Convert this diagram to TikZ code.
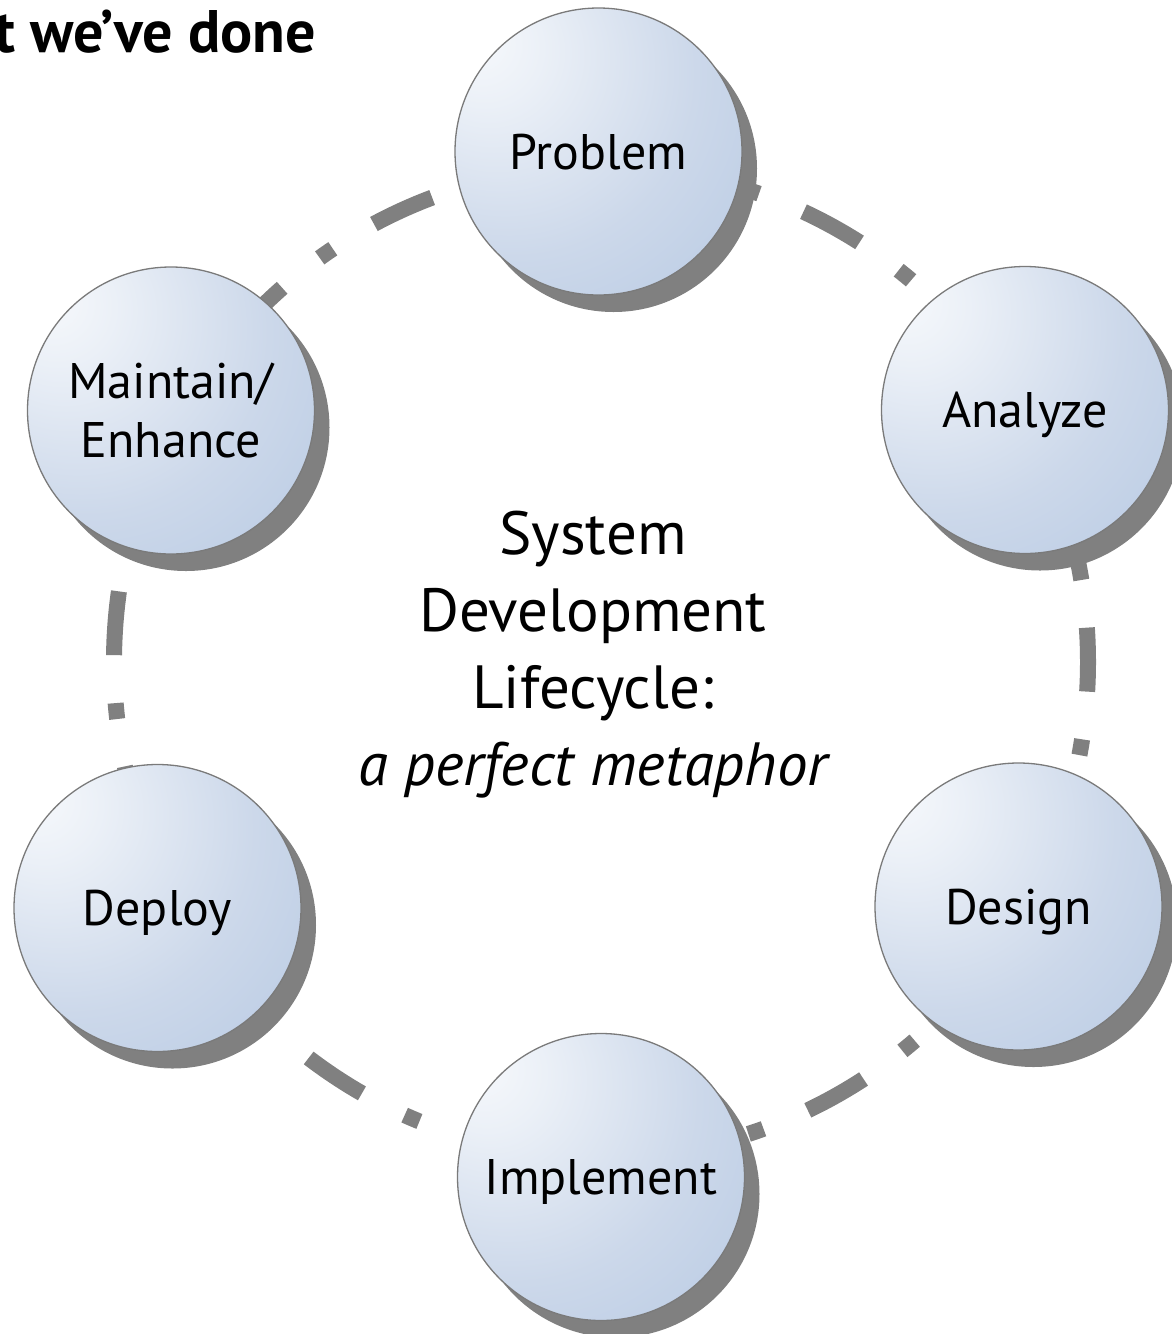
\documentclass[tikz,border=0pt]{standalone}
\usepackage{fontspec}
\setmainfont{PT Sans}
\usetikzlibrary{backgrounds}
\definecolor{hl}{HTML}{F7F9FC}
\definecolor{hl2}{HTML}{EBF0F7}
\definecolor{mid}{HTML}{CCD8EA}
\definecolor{edge}{HTML}{B8CAE3}
\definecolor{shadowgray}{HTML}{808080}
\definecolor{bordergray}{HTML}{7A7A7A}
\pgfdeclareradialshading{ball}{\pgfpoint{-22bp}{20bp}}{color(0bp)=(hl); color(10bp)=(hl2); color(32bp)=(mid); color(52bp)=(edge); color(100bp)=(edge)}
\tikzset{
  phase/.style={circle, minimum size=287pt, inner sep=0pt, draw=bordergray, line width=1.3pt,
    shading=ball, align=center, text=black,
    font=\fontsize{50}{59}\selectfont, text height=35pt, text depth=0pt},
  twoline/.style={text height=94pt},
  centre/.style={align=center, inner sep=0pt, font=\fontsize{61}{77}\selectfont, text height=274pt, text depth=0pt},
  title/.style={font=\bfseries\fontsize{60}{70}\selectfont, anchor=base east, inner sep=0pt},
  ring/.style={draw=shadowgray, line width=16pt, dash pattern=on 64pt off 48pt on 16pt off 48pt, dash phase=143pt},
  shadowfill/.style={fill=shadowgray},
}
\begin{document}
\begin{tikzpicture}[x=1pt,y=1pt]
\useasboundingbox (0,0) rectangle (1172,-1334);
\node[title] (ttl) at (316,-52) {t we’ve done};
\node[phase] (prob) at (598.5,-151.5) {Problem};
\node[phase] (anal) at (1025,-410) {Analyze};
\node[phase] (desi) at (1018.5,-906.5) {Design};
\node[phase] (impl) at (601,-1177) {Implement};
\node[phase] (depl) at (157.5,-908) {Deploy};
\node[phase, twoline] (main) at (171,-410.5) {Maintain/\\Enhance};
\node[centre] (sdlc) at (593,-648.5) {System\\Development\\Lifecycle:\\\itshape a perfect metaphor};
\begin{scope}[on background layer]
  \coordinate (ctr) at (601,-662);
  \draw[ring] (ctr) ++(0,495) arc[start angle=90, end angle=-270, x radius=487, y radius=495];
  \foreach \n in {prob,anal,desi,impl,depl,main}{
    \fill[shadowfill] ([shift={(15,-17)}]\n.center) circle[radius=143.5];
  }
\end{scope}
\end{tikzpicture}
\end{document}
